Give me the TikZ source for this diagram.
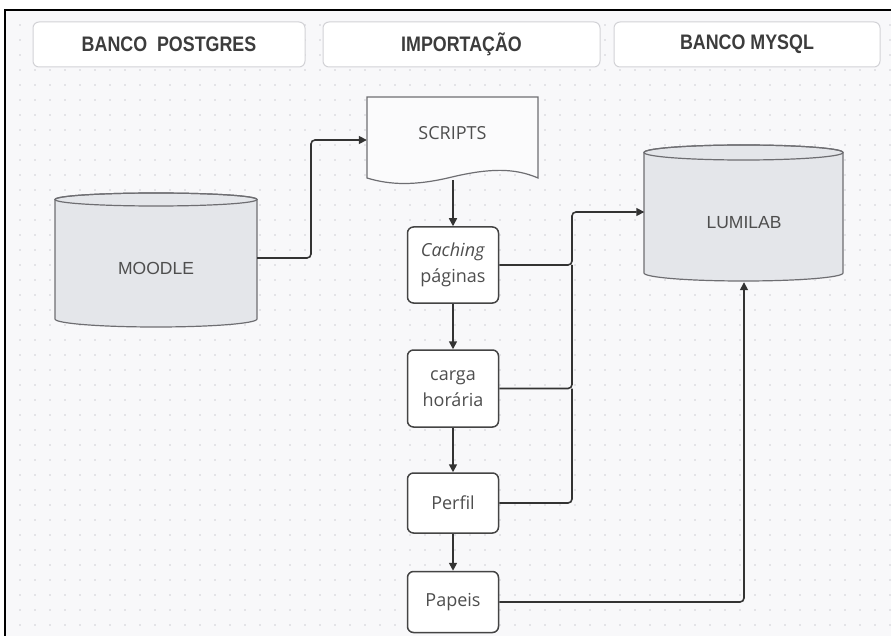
\documentclass[tikz,border=0pt]{standalone}
\usepackage{fontspec}
\setmainfont{Open Sans}
\newfontfamily\hdrfont[FakeStretch=0.85]{Liberation Sans}
\newfontfamily\dbfont{Liberation Sans}
\usetikzlibrary{arrows.meta,calc}
\definecolor{bgc}{HTML}{F8F8FA}
\definecolor{dotc}{HTML}{CFCFD4}
\definecolor{hdrline}{HTML}{D2D2D6}
\definecolor{hdrtxt}{HTML}{3C3C3C}
\definecolor{txtc}{HTML}{4E4E4E}
\definecolor{boxline}{HTML}{444444}
\definecolor{cylfill}{HTML}{E4E6EA}
\definecolor{cylline}{HTML}{6E6E72}
\definecolor{conc}{HTML}{333333}
\tikzset{
  hdr/.style={draw=hdrline, line width=1pt, fill=white, rounded corners=6pt,
    minimum height=45pt, text=hdrtxt, font=\hdrfont\bfseries\fontsize{21}{23}\selectfont},
  stepbox/.style={draw=boxline, line width=1.5pt, fill=white, rounded corners=6pt,
    align=center, text=txtc, inner sep=0pt, minimum width=91pt,
    font=\fontsize{18}{26}\selectfont},
  anchorbox/.style={inner sep=0pt},
  dbtext/.style={text=txtc, font=\dbfont\fontsize{17.5}{20}\selectfont},
  cylst/.style={draw=cylline, line width=1.2pt, fill=cylfill},
  conn/.style={draw=conc, line width=1.6pt, rounded corners=4pt,
    -{Triangle[length=8pt,width=8pt]}},
  link/.style={draw=conc, line width=1.6pt, rounded corners=4pt}
}
\begin{document}
\begin{tikzpicture}[x=1pt,y=-1pt]
\useasboundingbox (0,0) rectangle (891,636);
\fill[white] (0,0) rectangle (891,636);
\fill[bgc] (5,10) rectangle (891,636);
\foreach \i in {0,...,58}{
  \foreach \j in {0,...,41}{
    \fill[dotc] (20+15*\i,25+15*\j) circle (0.9);
  }
}
\draw[black, line width=1.6pt] (5,636) -- (5,10) -- (891,10);

% headers
\node[hdr, minimum width=272pt] (h1) at (169,44.5) {BANCO\ \ POSTGRES};
\node[hdr, minimum width=277pt] (h2) at (461.5,44.5) {IMPORTAÇÃO};
\node[hdr, minimum width=266pt] (h3) at (747,44.5) {BANCO MYSQL};

% MOODLE cylinder
\filldraw[cylst] (55,199.5) -- (55,319) arc[start angle=180,end angle=0,x radius=101,y radius=8]
  -- (257,199.5) arc[start angle=0,end angle=-180,x radius=101,y radius=6.5] -- cycle;
\draw[cylst, fill=none] (156,199.5) ellipse[x radius=101, y radius=6.5];
\node[anchorbox, minimum width=202pt, minimum height=135pt] (moodle) at (156,258) {};
\node[dbtext] at (moodle.center) [yshift=-10pt] {MOODLE};

% LUMILAB cylinder
\filldraw[cylst] (644,152.5) -- (644,273) arc[start angle=180,end angle=0,x radius=99.5,y radius=8]
  -- (843,152.5) arc[start angle=0,end angle=-180,x radius=99.5,y radius=7.5] -- cycle;
\draw[cylst, fill=none] (743.5,152.5) ellipse[x radius=99.5, y radius=7.5];
\node[anchorbox, minimum width=199pt, minimum height=140pt] (lumi) at (744,212) {};
\node[dbtext] at (lumi.center) [yshift=-11pt] {LUMILAB};

% SCRIPTS document
\filldraw[cylst, fill=bgc!50!white] (367,97) -- (538,97) -- (538,178)
  .. controls (515,168) and (490,168) .. (452,177)
  .. controls (415,186) and (390,185) .. (367,178) -- cycle;
\node[anchorbox, minimum width=171pt, minimum height=80pt] (scripts) at (452.5,140) {};
\node[text=txtc, font=\fontsize{18}{20}\selectfont] at (scripts.center) [yshift=7pt] {SCRIPTS};

% step boxes
\node[stepbox, minimum height=76pt] (cach) at (453,265) {\textit{Caching}\\páginas};
\node[stepbox, minimum height=77pt] (carga) at (453,388.5) {carga\\horária};
\node[stepbox, minimum height=60pt] (perfil) at (453,503) {Perfil};
\node[stepbox, minimum height=61pt] (papeis) at (453,602) {Papeis};

\coordinate (jn) at (572,0);
\coordinate (jm) at (311,0);

% connectors
\draw[conn] (moodle.east) -- (moodle.east -| jm) -- (jm |- scripts.west) -- (scripts.west);
\draw[conn] (scripts.south -| cach.north) -- (cach.north);
\draw[conn] (cach.south) -- (carga.north);
\draw[conn] (carga.south) -- (perfil.north);
\draw[conn] (perfil.south) -- (papeis.north);
\draw[conn] (cach.east) -- (cach.east -| jn) -- (jn |- lumi.west) -- (lumi.west);
\draw[link] (carga.east) -- (carga.east -| jn) -- (jn |- cach.east);
\draw[link] (perfil.east) -- (perfil.east -| jn) -- (jn |- carga.east);
\draw[conn] (papeis.east) -- (papeis.east -| lumi.south) -- (lumi.south);
\end{tikzpicture}
\end{document}
